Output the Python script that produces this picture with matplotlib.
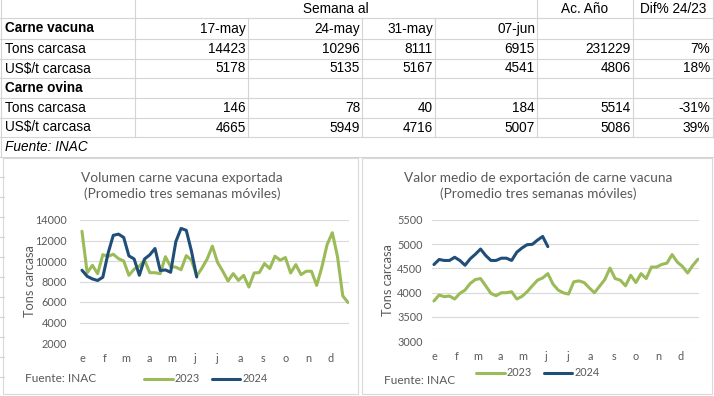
import matplotlib
matplotlib.use("Agg")
import matplotlib.pyplot as plt
from matplotlib.lines import Line2D
from matplotlib.patches import Rectangle
import numpy as np

# ---------------- data ----------------
week_labels = ["17-may", "24-may", "31-may", "07-jun"]
vac_tons = [14423, 10296, 8111, 6915]
vac_tons_acc = "231229"
vac_tons_dif = "7%"
vac_price = [5178, 5135, 5167, 4541]
vac_price_acc = "4806"
vac_price_dif = "18%"
ovi_tons = [146, 78, 40, 184]
ovi_tons_acc = "5514"
ovi_tons_dif = "-31%"
ovi_price = [4665, 5949, 4716, 5007]
ovi_price_acc = "5086"
ovi_price_dif = "39%"

month_labels = ["e", "f", "m", "a", "m", "j", "j", "a", "s", "o", "n", "d"]
month_start_day = [0, 31, 59, 90, 120, 151, 181, 212, 243, 273, 304, 334]

vol_2023 = [12900, 8850, 9580, 8760, 10620, 10450, 10660, 10230, 10000, 8600,
            9200, 9500, 10080, 8860, 8860, 8760, 10420, 9450, 9400, 9150,
            10520, 10080, 8550, 9300, 10200, 11450, 9850, 9000, 8050, 8770,
            8110, 8600, 7460, 8830, 8870, 9750, 9260, 10470, 10080, 10340,
            8830, 9650, 8670, 9000, 9000, 7620, 9420, 11610, 12760, 10400,
            6600, 5950]
vol_2024 = [9100, 8510, 8250, 8100, 8420, 10750, 12500, 12620, 12300, 10500,
            10200, 8610, 10200, 10600, 11220, 9070, 9130, 8900, 11900, 13180,
            12990, 10940, 8440]

val_2023 = [3827, 3950, 3916, 3929, 3868, 3984, 4052, 4188, 4270, 4290,
            4140, 3984, 3936, 3997, 3997, 4018, 3868, 3922, 4018, 4140,
            4256, 4303, 4392, 4174, 4052, 3995, 3970, 4222, 4242, 4208,
            4099, 3997, 4133, 4270, 4507, 4290, 4256, 4140, 4358, 4208,
            4392, 4290, 4528, 4528, 4582, 4609, 4786, 4630, 4541, 4405,
            4562, 4690]
val_2024 = [4580, 4684, 4664, 4664, 4730, 4664, 4565, 4698, 4793, 4900,
            4766, 4664, 4664, 4711, 4711, 4664, 4834, 4922, 4990, 4997,
            5085, 5160, 4950]

# ---------------- style ----------------
W, H = 714, 396
GREEN = "#9BBB59"
BLUE = "#1F4E79"
GRID = "#D9D9D9"
TXT = "#595959"
CELL = "#D4D4D4"
TFONT = ["Liberation Sans", "DejaVu Sans"]
CFONT = ["Lato", "DejaVu Sans"]

fig = plt.figure(figsize=(W / 100, H / 100), dpi=100)
fig.patch.set_facecolor("white")


def fx(x):
    return x / W


def fy(y):
    return 1 - y / H


def hline(x0, x1, y, color=CELL, lw=0.8):
    fig.add_artist(Line2D([fx(x0), fx(x1)], [fy(y), fy(y)], transform=fig.transFigure,
                          color=color, lw=lw))


def vline(x, y0, y1, color=CELL, lw=0.8):
    fig.add_artist(Line2D([fx(x), fx(x)], [fy(y0), fy(y1)], transform=fig.transFigure,
                          color=color, lw=lw))


# ---------------- table ----------------
row_lines = [18, 39, 59, 78, 98, 118, 137, 157]
for y in row_lines:
    hline(0, W, y)
for x in [135, 537, 633, 713]:
    vline(x, 0, 137)
for x in [248, 362, 435]:
    vline(x, 18, 137)
vline(1.0, 0, 157)
for y in range(177, 396, 20):
    hline(0, 4, y)

TFS = 9.8
col_right = [246, 360, 433, 535]
acc_right = 631
dif_right = 710

fig.text(fx(336), fy(9), "Semana al", ha="center", va="center", fontsize=TFS, family=TFONT)
fig.text(fx(585), fy(9), "Ac. Año", ha="center", va="center", fontsize=TFS, family=TFONT)
fig.text(fx(673), fy(9), "Dif% 24/23", ha="center", va="center", fontsize=TFS, family=TFONT)

fig.text(fx(5), fy(28.5), "Carne vacuna", ha="left", va="center", fontsize=TFS,
         family=TFONT, fontweight="bold")
for xr, lab in zip(col_right, week_labels):
    fig.text(fx(xr), fy(28.5), lab, ha="right", va="center", fontsize=TFS, family=TFONT)

rows = [
    (49, "Tons carcasa", vac_tons, vac_tons_acc, vac_tons_dif),
    (68.5, "US$/t carcasa", vac_price, vac_price_acc, vac_price_dif),
    (108, "Tons carcasa", ovi_tons, ovi_tons_acc, ovi_tons_dif),
    (127.5, "US$/t carcasa", ovi_price, ovi_price_acc, ovi_price_dif),
]
for y, lab, vals, acc, dif in rows:
    fig.text(fx(5), fy(y), lab, ha="left", va="center", fontsize=TFS, family=TFONT)
    for xr, v in zip(col_right, vals):
        fig.text(fx(xr), fy(y), str(v), ha="right", va="center", fontsize=TFS, family=TFONT)
    fig.text(fx(acc_right), fy(y), acc, ha="right", va="center", fontsize=TFS, family=TFONT)
    fig.text(fx(dif_right), fy(y), dif, ha="right", va="center", fontsize=TFS, family=TFONT)

fig.text(fx(5), fy(88), "Carne ovina", ha="left", va="center", fontsize=TFS,
         family=TFONT, fontweight="bold")
fig.text(fx(5), fy(147), "Fuente: INAC", ha="left", va="center", fontsize=TFS,
         family=TFONT, style="italic")

# ---------------- charts ----------------
month_pos = [d / 7 for d in month_start_day]


def make_chart(box, plot, ylim, yticks, s23, s24, title, title_cx, ylab_x, legend_c, fuente_xy, ypad):
    bx0, by0, bx1, by1 = box
    fig.add_artist(Rectangle((fx(bx0), fy(by1)), fx(bx1) - fx(bx0), fy(by0) - fy(by1),
                             transform=fig.transFigure, facecolor="white",
                             edgecolor=GRID, lw=0.8, zorder=0))
    px0, py0, px1, py1 = plot
    ax = fig.add_axes([fx(px0), fy(py1), fx(px1) - fx(px0), fy(py0) - fy(py1)])
    ax.set_facecolor("none")
    x23 = np.arange(len(s23))
    x24 = np.arange(len(s24))
    l23, = ax.plot(x23, s23, color=GREEN, lw=2.2, solid_joinstyle="round",
                   solid_capstyle="round", label="2023")
    l24, = ax.plot(x24, s24, color=BLUE, lw=2.2, solid_joinstyle="round",
                   solid_capstyle="round", label="2024")
    ax.set_xlim(-0.3, 51.1)
    ax.set_ylim(*ylim)
    ax.set_yticks(yticks)
    ax.set_yticklabels([str(t) for t in yticks])
    ax.set_xticks(month_pos)
    ax.set_xticklabels(month_labels)
    for s in ax.spines.values():
        s.set_visible(False)
    ax.grid(axis="y", color=GRID, lw=0.8)
    ax.set_axisbelow(True)
    ax.tick_params(axis="both", length=0, colors=TXT, labelsize=7.8)
    ax.tick_params(axis="y", pad=ypad)
    ax.tick_params(axis="x", pad=7)
    for t in ax.get_xticklabels() + ax.get_yticklabels():
        t.set_family(CFONT)
    fig.text(fx(ylab_x), fy((py0 + py1) / 2), "Tons carcasa", rotation=90, ha="center",
             va="center", fontsize=9.2, color=TXT, family=CFONT)
    fig.text(fx(title_cx), fy(186), title, ha="center", va="center", fontsize=9.8,
             color=TXT, family=CFONT, linespacing=1.3)
    fig.text(fx(fuente_xy[0]), fy(fuente_xy[1]), "Fuente: INAC", ha="left", va="center",
             fontsize=8.6, color=TXT, family=CFONT)
    leg = ax.legend(handles=[l23, l24], loc="center", bbox_to_anchor=(fx(legend_c[0]), fy(legend_c[1])),
                    bbox_transform=fig.transFigure, ncol=2, frameon=False, fontsize=7.8,
                    handlelength=2.6, handletextpad=0.2, columnspacing=1.1,
                    borderpad=0, borderaxespad=0)
    for t in leg.get_texts():
        t.set_color(TXT)
        t.set_family(CFONT)
    return ax


make_chart((3, 158, 358, 394), (80.4, 220, 348.5, 343), (2000, 14000),
           list(range(2000, 14001, 2000)), vol_2023, vol_2024,
           "Volumen carne vacuna exportada\n(Promedio tres semanas móviles)",
           182, 30, (206, 379), (25, 379), 9.5)
make_chart((362, 158, 712, 394), (432.4, 220, 698.5, 341), (3000, 5500),
           list(range(3000, 5501, 500)), val_2023, val_2024,
           "Valor medio de exportación de carne vacuna\n(Promedio tres semanas móviles)",
           538, 388, (538, 373), (384, 380), 7)

fig.savefig("out.png", dpi=100, facecolor="white")
